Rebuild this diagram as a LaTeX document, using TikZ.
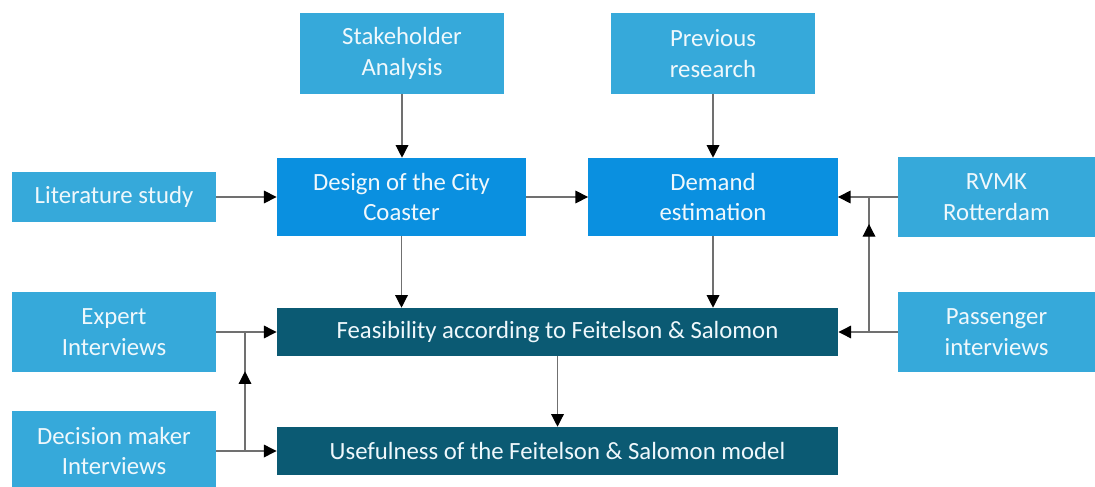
\documentclass[tikz,border=0pt]{standalone}
\usepackage{fontspec}
\setmainfont{Carlito}
\usetikzlibrary{arrows.meta,calc}

\definecolor{lightblue}{HTML}{36A9DA}
\definecolor{midblue}{HTML}{0A90E0}
\definecolor{darkteal}{HTML}{0B5A73}
\definecolor{linegray}{HTML}{707070}

\tikzset{
  box/.style={rectangle, inner sep=0pt, align=center, text=white!92!lightblue,
    font=\fontsize{17.6}{22}\selectfont},
  lightbox/.style={box, fill=lightblue, minimum width=5.1cm, minimum height=2cm},
  sidebox/.style={box, fill=lightblue, minimum width=4.93cm, minimum height=2cm},
  midbox/.style={box, fill=midblue, minimum width=6.23cm, minimum height=1.95cm},
  darkbox/.style={box, fill=darkteal, minimum width=14.03cm, minimum height=1.2cm},
  line/.style={draw=linegray, line width=0.9pt},
  arr/.style={line, -{Triangle[length=9pt,width=9pt,color=black]}}
}

\begin{document}
\begin{tikzpicture}[x={(0.025cm,0)}, y={(0,-0.025cm)}]
  \useasboundingbox (0,0) rectangle (1095,486);
  % Inputs on top
  \node[lightbox] (stake) at (402,53.5) {Stakeholder\\Analysis};
  \node[lightbox] (prev) at (713,53.5) {Previous\\research};
  % Middle row
  \node[lightbox, minimum height=1.25cm] (lit) at (114,197) {Literature study};
  \node[midbox] (design) at (401.5,197) {Design of the City\\Coaster};
  \node[midbox] (demand) at (713,197) {Demand\\estimation};
  \node[sidebox] (rvmk) at (996.5,197) {RVMK\\Rotterdam};
  % Interviews and the two analyses
  \node[lightbox] (expert) at (114,332) {Expert\\Interviews};
  \node[darkbox] (feas) at (557.5,332) {Feasibility according to Feitelson \& Salomon};
  \node[sidebox] (pass) at (996.5,332) {Passenger\\interviews};
  \node[lightbox] (dec) at (114,451) {Decision maker\\Interviews};
  \node[darkbox] (use) at (557.5,451) {Usefulness of the Feitelson \& Salomon model};

  % Straight connectors
  \foreach \from/\to in {stake/design, prev/demand, design/feas, demand/feas, feas/use} {
    \draw[arr] (\from.south) -- (\from.south |- \to.north);
  }
  \foreach \from/\to in {lit/design, design/demand, expert/feas, dec/use} {
    \draw[arr] (\from.east) -- (\to.west);
  }
  \foreach \from/\to in {rvmk/demand, pass/feas} {
    \draw[arr] (\from.west) -- (\to.east);
  }

  % Joins between the interview lines
  \coordinate (jl1) at (245,451);
  \coordinate (jl2) at (245,332);
  \draw[line] (jl1) -- (jl2);
  \draw[arr] (jl1) -- ($(jl1)!0.67!(jl2)$);
  \coordinate (jr1) at (869,332);
  \coordinate (jr2) at (869,197);
  \draw[line] (jr1) -- (jr2);
  \draw[arr] (jr1) -- ($(jr1)!0.8!(jr2)$);
\end{tikzpicture}
\end{document}
